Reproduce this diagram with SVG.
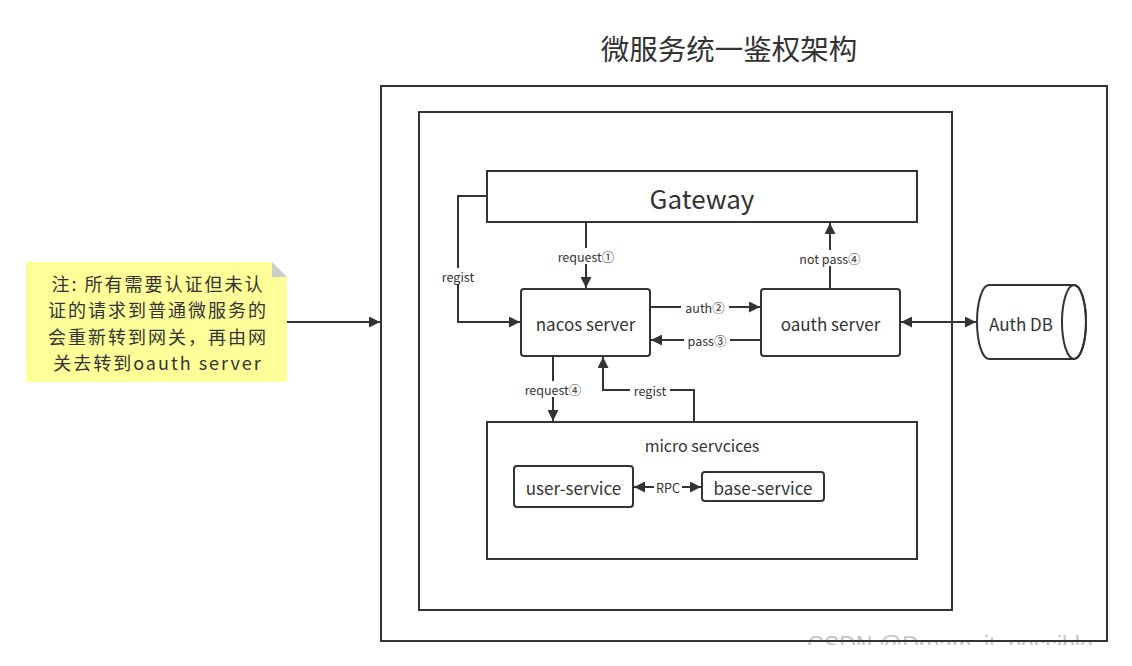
<svg xmlns="http://www.w3.org/2000/svg" width="1132" height="666" viewBox="0 0 1132 666">
<style>
text{font-family:"Noto Sans CJK SC","Microsoft YaHei","Open Sans",sans-serif;fill:#333;}
.box{fill:#fff;stroke:#333;stroke-width:2;}
.c{fill:none;stroke:#333;stroke-width:2;}
.lbl{font-size:12.5px;text-anchor:middle;dominant-baseline:central;}
.node{font-size:17px;text-anchor:middle;dominant-baseline:central;}
.lb{fill:#fff;}
</style>
<defs>
<marker id="a" viewBox="0 0 10 10" refX="10" refY="5" markerWidth="5.5" markerHeight="5.5" orient="auto-start-reverse" markerUnits="strokeWidth"><path d="M0,0L10,5L0,10z" fill="#333"/></marker>
<clipPath id="wm"><rect x="0" y="0" width="1132" height="645"/></clipPath>
</defs>
<rect width="1132" height="666" fill="#fff"/>
<g id="title"><text x="729" y="47" font-size="28.5" text-anchor="middle" dominant-baseline="central">微服务统一鉴权架构</text></g>
<g id="watermark" clip-path="url(#wm)"><text x="950" y="653" font-size="23" text-anchor="middle" style="fill:#c4c4c4;font-family:'Liberation Sans',sans-serif">CSDN @Dream_it_possible</text></g>
<g id="outer"><rect x="381" y="86" width="726" height="555" fill="none" stroke="#333" stroke-width="2"/></g>
<g id="inner"><rect class="box" x="419" y="112" width="533" height="498"/></g>
<g id="gateway"><rect class="box" x="487" y="171" width="430" height="51"/><text x="702" y="197" font-size="26" text-anchor="middle" dominant-baseline="central">Gateway</text></g>
<g id="nacos"><rect class="box" x="521" y="289" width="129" height="67" rx="3"/><text class="node" x="585.5" y="323">nacos server</text></g>
<g id="oauth"><rect class="box" x="761" y="289" width="139" height="67" rx="3"/><text class="node" x="830.5" y="323">oauth server</text></g>
<g id="micro"><rect class="box" x="487" y="422" width="430" height="137"/><text x="702" y="445" font-size="16" text-anchor="middle" dominant-baseline="central">micro servcices</text></g>
<g id="user-service"><rect class="box" x="514" y="466" width="119" height="41" rx="3"/><text class="node" x="573.5" y="487" font-size="16">user-service</text></g>
<g id="base-service"><rect class="box" x="702" y="472" width="122" height="29" rx="3"/><text class="node" x="763" y="487" font-size="16">base-service</text></g>
<g id="authdb"><path class="box" d="M989,285 H1074 A12,37 0 0 1 1074,359 H989 A12,37 0 0 1 989,285 Z"/><ellipse cx="1074" cy="322" rx="12" ry="37" fill="none" stroke="#333" stroke-width="2"/><text class="node" x="1021" y="323" font-size="16">Auth DB</text></g>
<g id="note"><path d="M26,262 H272 L287,277 V382 H26 Z" fill="#ffff99"/><path d="M272,262 L287,277 H272 Z" fill="#ccc"/>
<g font-size="18" letter-spacing="2" text-anchor="middle" dominant-baseline="central"><text x="158" y="283">注: 所有需要认证但未认</text><text x="158" y="309.3">证的请求到普通微服务的</text><text x="158" y="335.6">会重新转到网关，再由网</text><text x="158" y="362">关去转到oauth server</text></g></g>
<g id="connectors">
<path class="c" d="M287,322 H380" marker-end="url(#a)"/>
<path class="c" d="M487,196 H458 V322 H520" marker-end="url(#a)"/>
<path class="c" d="M586,222 V288" marker-end="url(#a)"/>
<path class="c" d="M650,307 H760" marker-end="url(#a)"/>
<path class="c" d="M761,340 H651" marker-end="url(#a)"/>
<path class="c" d="M830,289 V223" marker-end="url(#a)"/>
<path class="c" d="M553,356 V421" marker-end="url(#a)"/>
<path class="c" d="M694,422 V390 H603 V357" marker-end="url(#a)"/>
<path class="c" d="M901,322 H976" marker-start="url(#a)" marker-end="url(#a)"/>
<path class="c" d="M634,487 H701" marker-start="url(#a)" marker-end="url(#a)"/>
<rect class="lb" x="439" y="268" width="38" height="16"/><text class="lbl" x="458" y="276">regist</text>
<rect class="lb" x="554" y="248" width="64" height="16"/><text class="lbl" x="586" y="256">request①</text>
<rect class="lb" x="681" y="299" width="48" height="16"/><text class="lbl" x="705" y="307">auth②</text>
<rect class="lb" x="684" y="332" width="46" height="16"/><text class="lbl" x="707" y="340">pass③</text>
<rect class="lb" x="795" y="250" width="70" height="16"/><text class="lbl" x="830" y="258">not pass④</text>
<rect class="lb" x="521" y="381" width="64" height="16"/><text class="lbl" x="553" y="389">request④</text>
<rect class="lb" x="630" y="382" width="40" height="16"/><text class="lbl" x="650" y="390">regist</text>
<rect class="lb" x="654" y="479" width="28" height="16"/><text class="lbl" x="668" y="487">RPC</text>
</g>
</svg>
